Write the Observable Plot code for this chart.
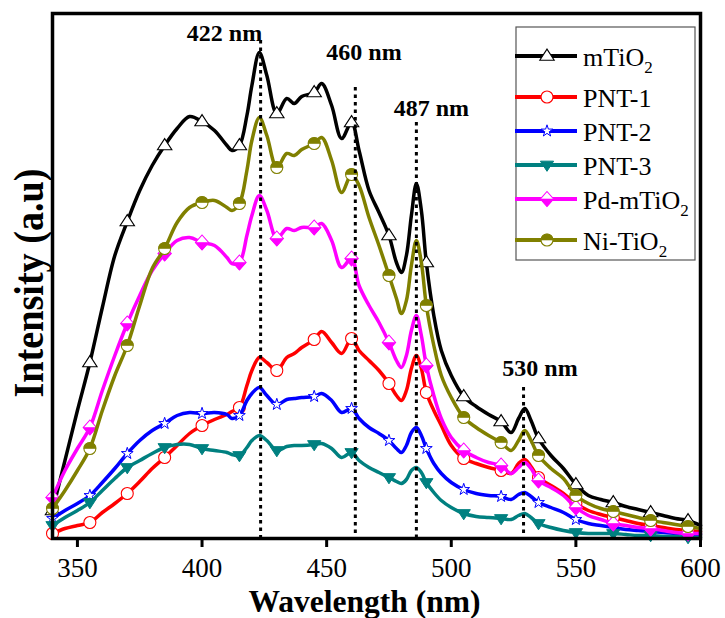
<!DOCTYPE html>
<html><head><meta charset="utf-8">
<script src="https://cdn.jsdelivr.net/npm/d3@7"></script>
<script src="https://cdn.jsdelivr.net/npm/@observablehq/plot@0.6"></script>
<style>body{margin:0;background:#fff}</style>
</head><body><div id="chart"></div>
<script>
// ---- data (intensity in a.u.) ----
const wavelengths = [340,345,350,355,360,365,370,375,380,385,390,395,400,405,410,412,415,418,420,423,426,430,434,437,440,445,448,452,456,460,463,467,471,475,478,480,482,484,486,488,490,493,496,500,505,510,515,520,524,527,529.5,532,535,540,545,550,555,560,565,570,575,580,585,590,595,600];
const mTiO2   = [28,78,128,176,231,283,317,348,373,393,410,422,417,408,393,388,393,423,453,486,463,425,440,435,442,446,455,433,400,416,388,348,326,303,276,266,283,323,355,328,276,223,188,163,142,132,124,117,106,120,130,118,100,83,70,54,43,39,36,32,29,26,23,20,18,13];
const PNT1    = [5,10,13,16,26,35,45,57,70,81,93,105,113,119,124,127,131,153,168,181,176,168,181,185,191,199,207,196,185,200,188,178,168,155,143,138,148,170,183,170,146,128,113,93,80,75,71,68,65,75,79,72,61,53,45,35,28,24,21,18,15,13,11,9,8,7];
const PNT2    = [20,28,35,43,56,70,85,98,108,115,123,126,125,126,124,120,123,138,145,151,143,134,139,140,141,142,145,138,126,130,120,111,105,98,90,86,93,106,111,103,90,75,65,56,49,45,43,42,39,44,46,42,36,31,26,19,15,13,11,9,8,7,6,5,4,4];
const PNT3    = [13,21,28,36,48,60,71,78,85,91,94,94,90,88,86,84,83,91,98,103,98,88,92,93,93,94,95,90,81,86,78,71,66,61,57,55,59,68,71,66,56,46,38,31,25,22,21,20,19,23,25,21,15,11,8,6,5,5,5,4,3,3,2,2,1,1];
const PdmTiO2 = [41,68,90,111,148,183,215,243,268,285,298,301,296,293,281,275,276,303,323,343,328,300,310,308,311,311,315,298,271,280,253,233,216,196,178,171,183,208,223,203,173,143,120,101,88,81,76,73,65,71,76,70,58,51,43,31,23,19,15,13,11,10,8,6,5,5];
const NiTiO2  = [30,48,68,90,128,163,193,233,270,290,316,331,336,338,331,328,335,368,398,421,403,371,385,383,389,395,401,378,346,364,353,321,293,263,240,225,238,273,298,276,233,193,163,141,121,111,103,96,88,98,108,98,83,70,60,43,35,30,27,24,21,18,16,14,12,10];

const seriesNames  = ["mTiO2","PNT-1","PNT-2","PNT-3","Pd-mTiO2","Ni-TiO2"];
const seriesValues = [mTiO2, PNT1, PNT2, PNT3, PdmTiO2, NiTiO2];
const markerWavelengths = [340,355,370,385,400,415,430,445,460,475,490,505,520,535,550,565,580,595];
const xTicks = [350,400,450,500,550,600];

const peakWavelengths = [423.5, 461.5, 486, 529];
const peakLineTops    = [498, 451, 416, 151];
const peakLabels      = ["422 nm","460 nm","487 nm","530 nm"];
const peakLabelX      = [409, 465, 492, 535.6];
const peakLabelY      = [505, 486, 430, 170];

// ---- build tables ----
const rows = [];
seriesNames.forEach((s, i) => wavelengths.forEach((w, j) => rows.push({series: s, wl: w, value: seriesValues[i][j]})));
const peaks = peakWavelengths.map((w, i) => ({wl: w, top: peakLineTops[i], label: peakLabels[i], lx: peakLabelX[i], ly: peakLabelY[i]}));

// ---- symbols ----
const sym = f => ({draw(c, size) { const r = Math.sqrt(size / Math.PI); f(c, r); }});
const triUp = sym((c, r) => { c.moveTo(0, -1.15*r); c.lineTo(1.2*r, 0.7*r); c.lineTo(-1.2*r, 0.7*r); c.closePath(); });
const triDown = sym((c, r) => { c.moveTo(-1.2*r, -0.7*r); c.lineTo(1.2*r, -0.7*r); c.lineTo(0, 1.15*r); c.closePath(); });
const circ = sym((c, r) => { c.moveTo(r, 0); c.arc(0, 0, r, 0, 2*Math.PI); c.closePath(); });
const circTop = sym((c, r) => { c.moveTo(-r, 0); c.arc(0, 0, r, Math.PI, 2*Math.PI); c.closePath(); });
const diam = sym((c, r) => { c.moveTo(0, -1.25*r); c.lineTo(1.1*r, 0); c.lineTo(0, 1.25*r); c.lineTo(-1.1*r, 0); c.closePath(); });
const diamBottom = sym((c, r) => { c.moveTo(-1.1*r, 0); c.lineTo(1.1*r, 0); c.lineTo(0, 1.25*r); c.closePath(); });

const styles = {
  "mTiO2":   {color: "#000000", layers: [{symbol: triUp, r: 6, fill: "white", stroke: "#000000", sw: 1.1}]},
  "PNT-1":   {color: "#ff0000", layers: [{symbol: circ, r: 6, fill: "white", stroke: "#ff0000", sw: 1.1}]},
  "PNT-2":   {color: "#0000ff", layers: [{symbol: d3.symbolStar, r: 3.7, fill: "white", stroke: "#0000ff", sw: 1}]},
  "PNT-3":   {color: "#008080", layers: [{symbol: triDown, r: 5.5, fill: "#008080", stroke: "#008080", sw: 1}]},
  "Pd-mTiO2":{color: "#ff00ff", layers: [{symbol: diam, r: 6, fill: "white", stroke: "#ff00ff", sw: 1.1}, {symbol: diamBottom, r: 6, fill: "#ff00ff", stroke: "#ff00ff", sw: 0.6}]},
  "Ni-TiO2": {color: "#808000", layers: [{symbol: circ, r: 6, fill: "white", stroke: "#808000", sw: 1.1}, {symbol: circTop, r: 6, fill: "#808000", stroke: "#808000", sw: 0.6}]}
};

const serif = "'Liberation Serif','Times New Roman',Times,serif";

const marks = [];
seriesNames.forEach(s => {
  const st = styles[s];
  const data = rows.filter(d => d.series === s);
  marks.push(Plot.line(data, {x: "wl", y: "value", stroke: st.color, strokeWidth: 3.5, curve: "catmull-rom"}));
  const md = data.filter(d => markerWavelengths.includes(d.wl));
  st.layers.forEach(L => marks.push(Plot.dot(md, {x: "wl", y: "value", symbol: L.symbol, r: L.r, fill: L.fill, stroke: L.stroke, strokeWidth: L.sw})));
});

marks.push(Plot.ruleX(peaks, {x: "wl", y1: "top", y2: 0, stroke: "black", strokeWidth: 3, strokeDasharray: "3.5,4"}));
marks.push(Plot.text(peaks, {x: "lx", y: "ly", text: "label", fontSize: 24, fontWeight: "bold", fill: "black", fontFamily: serif}));
marks.push(Plot.frame({stroke: "black", strokeWidth: 3.5}));
marks.push(Plot.axisX({ticks: xTicks, tickSize: 9, tickPadding: 10, fontSize: 27, strokeWidth: 3, label: null, fontFamily: serif, fill: "black"}));
marks.push(Plot.text(["Wavelength (nm)"], {frameAnchor: "bottom", textAnchor: "middle", lineAnchor: "middle", dx: -12, dy: 63, fontSize: 32, fontWeight: "bold", fontFamily: serif}));
marks.push(Plot.text(["Intensity (a.u)"], {frameAnchor: "left", textAnchor: "middle", lineAnchor: "middle", rotate: -90, dx: -23, dy: 7, fontSize: 42, fontWeight: "bold", fontFamily: serif}));

const svg = Plot.plot({
  width: 725, height: 618,
  marginLeft: 52, marginRight: 25, marginTop: 13, marginBottom: 80,
  x: {domain: [340, 600]},
  y: {domain: [0, 525], axis: null},
  style: {fontFamily: serif, background: "white", color: "black"},
  marks
});

const byText = str => d3.select(svg).selectAll("text").filter(function() { return this.textContent === str; });
byText("Wavelength (nm)").attr("textLength", 232).attr("lengthAdjust", "spacingAndGlyphs");
byText("Intensity (a.u)").attr("textLength", 229).attr("lengthAdjust", "spacingAndGlyphs");

// ---- legend ----
const lg = d3.select(svg).append("g").attr("text-anchor", "start");
lg.append("rect").attr("x", 516).attr("y", 27).attr("width", 179).attr("height", 233)
  .attr("fill", "white").attr("stroke", "#555").attr("stroke-width", 1.2);
let rowY = 56;
seriesNames.forEach((s, i) => {
  const st = styles[s];
  const hasSub = /O2$/.test(s);
  lg.append("line").attr("x1", 515).attr("x2", 577).attr("y1", rowY).attr("y2", rowY)
    .attr("stroke", st.color).attr("stroke-width", 4);
  st.layers.forEach(L => {
    lg.append("path").attr("d", d3.symbol(L.symbol, L.r * L.r * Math.PI)())
      .attr("transform", `translate(547,${rowY})`)
      .attr("fill", L.fill).attr("stroke", L.stroke).attr("stroke-width", L.sw);
  });
  const t = lg.append("text").attr("x", 583).attr("y", rowY + 10).attr("text-anchor", "start")
    .attr("font-size", 26).attr("font-family", serif).attr("fill", "black");
  t.append("tspan").text(hasSub ? s.slice(0, -1) : s);
  if (hasSub) t.append("tspan").attr("font-size", 17).attr("dy", 7).text("2");
  rowY += 34 + (hasSub ? 7 : 0);
});

document.getElementById("chart").appendChild(svg);
</script>
</body></html>
